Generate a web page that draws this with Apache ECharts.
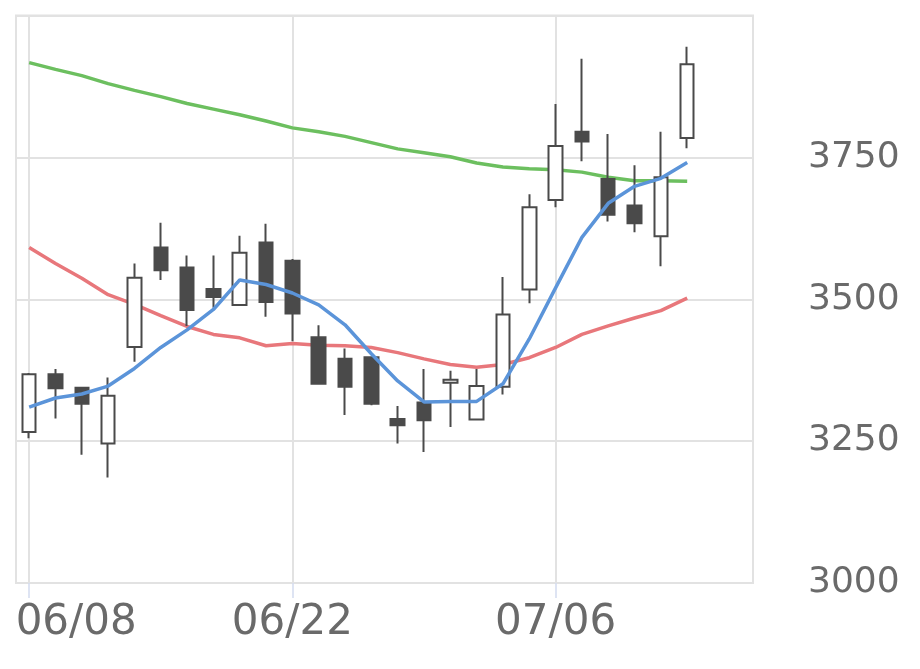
<!DOCTYPE html>
<html>
<head>
<meta charset="utf-8">
<script src="https://cdn.jsdelivr.net/npm/echarts@6/dist/echarts.min.js"></script>
<style>
  html, body { margin: 0; padding: 0; background: #fff; }
  #chart { width: 920px; height: 669px; }
</style>
</head>
<body>
<div id="chart"></div>
<script>
const dates = [
  '06/08', '06/09', '06/10', '06/11', '06/12',
  '06/15', '06/16', '06/17', '06/18', '06/19',
  '06/22', '06/23', '06/24', '06/25', '06/26',
  '06/29', '06/30', '07/01', '07/02', '07/03',
  '07/06', '07/07', '07/08', '07/09', '07/10',
  '07/13', '07/14', '07/15'
];

// dates that get a label and a vertical grid line
const labelDates = ['06/08', '06/22', '07/06'];

// [open, close, low, high]
const candles = [
  [3266, 3368, 3255, 3370],
  [3368, 3343, 3290, 3377],
  [3344, 3316, 3226, 3345],
  [3246, 3330, 3186, 3362],
  [3416, 3538, 3390, 3563],
  [3591, 3551, 3534, 3635],
  [3556, 3481, 3453, 3577],
  [3518, 3504, 3485, 3577],
  [3490, 3582, 3488, 3612],
  [3600, 3495, 3469, 3633],
  [3568, 3475, 3426, 3571],
  [3433, 3351, 3351, 3454],
  [3395, 3346, 3296, 3413],
  [3398, 3316, 3313, 3399],
  [3289, 3278, 3246, 3312],
  [3318, 3287, 3231, 3377],
  [3353, 3358, 3275, 3374],
  [3288, 3347, 3288, 3377],
  [3346, 3473, 3332, 3539],
  [3517, 3662, 3493, 3685],
  [3675, 3770, 3662, 3844],
  [3795, 3778, 3743, 3924],
  [3712, 3649, 3637, 3791],
  [3665, 3634, 3618, 3736],
  [3611, 3715, 3558, 3795],
  [3784, 3914, 3766, 3945]
];

const ma5 = [
  3310, 3326, 3333, 3347, 3378, 3415, 3446, 3482, 3534, 3526,
  3511, 3490, 3455, 3404, 3356, 3319, 3320, 3320, 3351, 3430,
  3520, 3609, 3669, 3699, 3713, 3741
];

const ma25 = [
  3591, 3563, 3537, 3508, 3491, 3471, 3452, 3438, 3432, 3418,
  3422, 3419, 3418, 3415, 3406, 3395, 3385, 3380, 3385, 3397,
  3415, 3438, 3453, 3467, 3480, 3502
];

const ma75 = [
  3917, 3905, 3894, 3880, 3868, 3857, 3845, 3835, 3825, 3814,
  3802, 3795, 3787, 3776, 3765, 3758, 3751, 3740, 3733, 3730,
  3728, 3724, 3715, 3709, 3709, 3708
];

const chart = echarts.init(document.getElementById('chart'));
const font = 'DejaVu Sans';
const gridColor = '#e2e2e2';
const labelColor = '#6a6a6a';

const lineStyle = (color) => ({
  type: 'line',
  symbol: 'none',
  smooth: false,
  lineStyle: { color, width: 3.5 },
  z: 3,
  silent: true
});

chart.setOption({
  animation: false,
  textStyle: { fontFamily: font },
  grid: {
    left: 16,
    top: 15.5,
    right: 167,
    bottom: 86,
    show: true,
    borderColor: gridColor,
    borderWidth: 2
  },
  xAxis: {
    type: 'category',
    data: dates,
    boundaryGap: true,
    axisLine: { show: false },
    axisTick: {
      show: true,
      alignWithLabel: true,
      interval: 9,
      length: 15,
      lineStyle: { color: '#d3dcf0', width: 1.5 }
    },
    axisLabel: {
      interval: 9,
      margin: 19,
      fontSize: 42,
      color: labelColor,
      fontFamily: font,
      formatter: (v, i) => (i === 0 ? '{first|' + v + '}' : v),
      rich: {
        first: { fontSize: 42, color: labelColor, fontFamily: font, padding: [0, 0, 0, 94] }
      }
    },
    splitLine: { show: false }
  },
  yAxis: {
    type: 'value',
    position: 'right',
    min: 3000,
    max: 4000,
    interval: 250,
    axisLine: { show: false },
    axisTick: { show: false },
    axisLabel: {
      showMaxLabel: false,
      margin: 55,
      fontSize: 36,
      color: labelColor,
      fontFamily: font,
      formatter: (v) => String(v)
    },
    splitLine: { lineStyle: { color: gridColor, width: 2 } }
  },
  series: [
    {
      name: 'vgrid',
      type: 'line',
      data: [],
      z: 1,
      silent: true,
      markLine: {
        z: 1,
        silent: true,
        symbol: 'none',
        label: { show: false },
        lineStyle: { color: gridColor, width: 2, type: 'solid' },
        data: labelDates.map((d) => ({ xAxis: d }))
      }
    },
    Object.assign(lineStyle('#e8777b'), { name: 'MA25', data: ma25 }),
    Object.assign(lineStyle('#6cbf5f'), { name: 'MA75', data: ma75 }),
    {
      name: 'price',
      type: 'candlestick',
      data: candles,
      barWidth: 14,
      z: 4,
      itemStyle: {
        color: '#ffffff',
        color0: '#4a4a4a',
        borderColor: '#4a4a4a',
        borderColor0: '#4a4a4a',
        borderWidth: 2
      }
    },
    Object.assign(lineStyle('#5b94d9'), { name: 'MA5', data: ma5, z: 5 })
  ]
});
</script>
</body>
</html>
